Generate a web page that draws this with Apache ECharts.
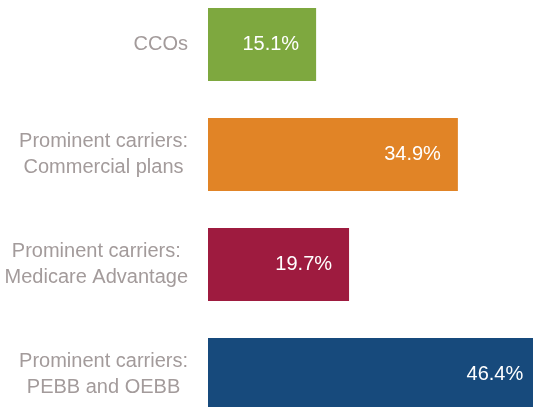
<!DOCTYPE html>
<html>
<head>
<meta charset="utf-8">
<script src="https://cdn.jsdelivr.net/npm/echarts@6/dist/echarts.min.js"></script>
<style>
html,body{margin:0;padding:0;background:#fff;}
#chart{width:533px;height:407px;}
</style>
</head>
<body>
<div id="chart"></div>
<script>
var categories = [
  "CCOs",
  "Prominent carriers:\nCommercial plans",
  "Prominent carriers:\nMedicare Advantage",
  "Prominent carriers:\nPEBB and OEBB"
];
var values = [15.1, 34.9, 19.7, 46.4];
var colors = ["#7ea83f", "#e18426", "#9e1b3f", "#174a7c"];

var FONT = '"Liberation Sans Narrow", "Arial Narrow", "Liberation Sans", Arial, sans-serif';
var chart = echarts.init(document.getElementById('chart'), null, {renderer: 'canvas'});
chart.setOption({
  animation: false,
  grid: {left: 208, width: 358, top: -10.5, height: 440, containLabel: false, outerBoundsMode: 'none'},
  xAxis: {
    type: 'value', min: 0, max: 50,
    show: false
  },
  yAxis: {
    type: 'category', inverse: true,
    data: categories,
    axisLine: {show: false}, axisTick: {show: false}, splitLine: {show: false},
    axisLabel: {
      margin: 20,
      color: '#a39b9b',
      fontFamily: FONT,
      fontSize: 20,
      lineHeight: 26,
      formatter: function (v) {
        return v.split('\n').map(function (l) { return '{c|' + l + '}'; }).join('\n');
      },
      rich: {c: {align: 'center', color: '#a39b9b', fontFamily: FONT, fontSize: 20, lineHeight: 26}}
    }
  },
  series: [{
    type: 'bar',
    barWidth: 73,
    data: values.map(function (v, i) { return {value: v, itemStyle: {color: colors[i]}}; }),
    label: {
      show: true, position: 'insideRight', distance: 17,
      color: '#ffffff', fontFamily: FONT, fontSize: 20,
      formatter: function (p) { return p.value.toFixed(1) + '%'; }
    }
  }]
});
</script>
</body>
</html>
